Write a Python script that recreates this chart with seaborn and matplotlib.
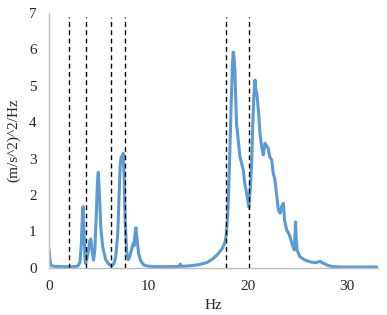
import numpy as np
import pandas as pd
import matplotlib
matplotlib.use('Agg')
import matplotlib.pyplot as plt
import seaborn as sns

# PSD
freq = [0.0, 0.05, 0.15, 0.3, 0.6, 1.0, 1.5, 2.0, 2.5, 2.9, 3.1, 3.25, 3.35, 3.42, 3.5,
        3.6, 3.67, 3.8, 4.0, 4.1, 4.2, 4.3, 4.47, 4.6, 4.75, 4.85, 4.94, 5.05, 5.2, 5.4,
        5.7, 6.0, 6.28, 6.5, 6.7, 6.9, 7.05, 7.15, 7.25, 7.35, 7.45, 7.55, 7.65, 7.8, 7.95,
        8.1, 8.3, 8.46, 8.55, 8.63, 8.73, 8.85, 9.0, 9.2, 9.5, 9.8, 10.5, 11.5, 12.5, 13.1,
        13.2, 13.3, 14.0, 15.0, 15.85, 16.5, 17.0, 17.4, 17.7, 17.85, 18.0, 18.15, 18.3, 18.45, 18.53,
        18.6, 18.7, 18.77, 18.87, 19.0, 19.13, 19.2, 19.35, 19.54, 19.7, 19.88, 20.0, 20.11, 20.25, 20.38,
        20.5, 20.6, 20.72, 20.8, 20.89, 21.0, 21.1, 21.22, 21.39, 21.55, 21.72, 21.89, 22.05, 22.2, 22.4,
        22.55, 22.73, 22.9, 23.07, 23.25, 23.4, 23.57, 23.7, 23.9, 24.1, 24.24, 24.45, 24.67, 24.75, 24.8,
        24.87, 24.95, 25.25, 25.75, 26.3, 26.76, 27.0, 27.26, 27.6, 28.1, 28.6, 29.5, 31.0, 33.0]
psd = [0.5, 0.3, 0.08, 0.05, 0.04, 0.03, 0.03, 0.03, 0.03, 0.05, 0.15, 0.7, 1.5, 1.68, 1.0,
       0.3, 0.12, 0.25, 0.55, 0.75, 0.79, 0.5, 0.21, 0.5, 1.5, 2.3, 2.62, 2.1, 1.1, 0.55,
       0.22, 0.1, 0.05, 0.1, 0.3, 0.9, 2.0, 2.8, 3.05, 3.0, 3.14, 2.5, 1.3, 0.45, 0.22,
       0.3, 0.5, 0.67, 0.6, 0.9, 1.1, 0.8, 0.4, 0.2, 0.08, 0.05, 0.03, 0.03, 0.03, 0.04,
       0.1, 0.04, 0.05, 0.08, 0.14, 0.25, 0.38, 0.52, 0.7, 0.95, 1.6, 2.8, 4.3, 5.6, 5.92,
       5.8, 5.4, 4.7, 3.92, 3.6, 3.23, 3.05, 2.9, 2.68, 2.3, 2.04, 1.85, 1.66, 2.2, 2.87,
       4.0, 4.7, 5.16, 4.9, 4.79, 4.5, 4.2, 3.69, 3.32, 3.1, 3.42, 3.35, 3.28, 3.05, 2.96,
       2.6, 2.41, 2.0, 1.59, 1.5, 1.68, 1.77, 1.3, 1.04, 0.95, 0.85, 0.65, 0.49, 0.9, 1.26,
       0.8, 0.49, 0.3, 0.21, 0.16, 0.14, 0.15, 0.18, 0.12, 0.06, 0.03, 0.02, 0.02, 0.02]
band_edges = [2.0, 3.67, 6.24, 7.65, 17.82, 20.14]
x_ticks = [0, 10, 20, 30]
y_ticks = [0, 1, 2, 3, 4, 5, 6, 7]

assert len(freq) == len(psd)
df = pd.DataFrame({'Hz': freq, 'psd': psd})

sns.set_style('white')
plt.rcParams['font.family'] = ['Liberation Serif', 'DejaVu Serif']

fig = plt.figure(figsize=(3.87, 3.15), dpi=100)
ax = fig.add_axes([0.127, 0.150, 0.849, 0.809])

sns.lineplot(data=df, x='Hz', y='psd', ax=ax, color='#5B9BD5', linewidth=2.2)
ax.vlines(band_edges, 0, 6.9, colors='black', linestyles=(0, (3.5, 2.5)), linewidth=1.0)

ax.set_xlim(0, 33.07)
ax.set_ylim(0, 7)
ax.set_xticks(x_ticks)
ax.set_yticks(y_ticks)
ax.set_xlabel('Hz', fontsize=11)
ax.set_ylabel('(m/s^2)^2/Hz', fontsize=11, labelpad=6)
ax.tick_params(axis='x', length=3, color='#BFBFBF', labelsize=11, pad=6)
ax.tick_params(axis='y', length=0, labelsize=11, pad=9)

for side in ['top', 'right']:
    ax.spines[side].set_visible(False)
for side in ['left', 'bottom']:
    ax.spines[side].set_color('#BFBFBF')
    ax.spines[side].set_linewidth(1.0)

fig.savefig('out.png', dpi=100)
